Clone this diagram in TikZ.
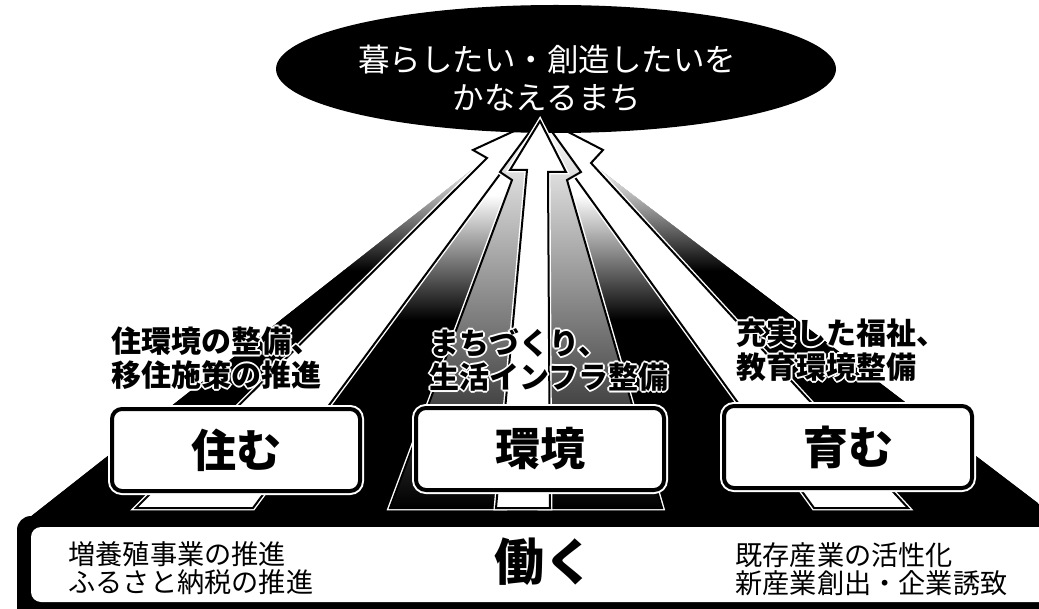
\documentclass[tikz,border=0pt]{standalone}
\usepackage{fontspec}
\newfontfamily\jpfont{Noto Sans CJK JP}

% label text with a thin white rim, so it stays readable on the dark rays
\newcommand\halolabel[4]{%
  \foreach \hx/\hy [count=\hi] in {1/0,-1/0,0/1,0/-1,.7/.7,-.7/.7,.7/-.7,-.7/-.7}
    \node[lbl,text=white,xshift={\hx*0.9pt},yshift={\hy*0.9pt}] (#1-h\hi) at (#2,#3) {#4};
  \node[lbl] (#1) at (#2,#3) {#4};}

\begin{document}
\begin{tikzpicture}[x=0.5pt,y=-0.5pt,
    ray/.style={fill=white,draw=black,line width=1pt,preaction={draw=white,line width=2.4pt}},
    rayshade/.style={top color=white,bottom color=black,draw=black,line width=1pt,preaction={draw=white,line width=2.4pt}},
    areabox/.style={draw=black,fill=white,line width=2pt,rounded corners=5pt,
      minimum width=124pt,minimum height=41pt,inner sep=0pt,
      preaction={draw=white,line width=4pt},
      font=\jpfont\bfseries\fontsize{22.5pt}{22.5pt}\selectfont},
    lbl/.style={anchor=west,align=left,inner sep=0pt,
      font=\jpfont\bfseries\fontsize{15pt}{17pt}\selectfont},
    worktext/.style={anchor=west,align=left,inner sep=0pt,
      font=\jpfont\fontsize{13.6pt}{14pt}\selectfont}]
  \useasboundingbox (0,0) rectangle (1039,609);
  \clip (0,0) rectangle (1039,609);

  % dark fan behind the rays
  \begin{scope}
    \clip (20,525) -- (487,158) -- (540,135) -- (591,163) -- (1060,520) -- cycle;
    \fill[black] (0,130) rectangle (1080,530);
    \fill[white] (0,130) rectangle (1080,196);
    \shade[top color=white,bottom color=black] (0,195) rectangle (1080,320);
  \end{scope}
  % side faces
  \begin{scope}
    \clip (20,525) -- (487,158) -- (136,508) -- cycle;
    \fill[black] (0,270) rectangle (600,530);
    \shade[top color=white,bottom color=black] (0,160) rectangle (600,271);
  \end{scope}
  \begin{scope}
    \clip (1060,520) -- (591,163) -- (908,508) -- cycle;
    \fill[black] (500,270) rectangle (1080,530);
    \shade[top color=white,bottom color=black] (500,165) rectangle (1080,271);
  \end{scope}

  % rays
  \draw[ray] (136,508) -- (487,158) -- (473,150) -- (538,120) -- (515,178) -- (503,170) -- (253,508) -- cycle;
  \draw[ray] (814,508) -- (574,176) -- (561,184) -- (547,121) -- (603,150) -- (591,163) -- (908,508) -- cycle;
  \draw[rayshade] (390,508) -- (512,180) -- (500,172) -- (537,122) -- (545,160) -- (505,508) -- cycle;
  \draw[rayshade] (540,508) -- (542,160) -- (545,122) -- (581,172) -- (567,180) -- (662,508) -- cycle;

  % goal
  \fill[black] (556,69) ellipse [x radius=280,y radius=64];
  \node[text=white,align=center,inner sep=0pt,font=\jpfont\fontsize{15.75pt}{19pt}\selectfont] (goal) at (547,78) {暮らしたい・創造したいを\\かなえるまち};
  \draw[ray] (496,508) -- (527,170) -- (510,170) -- (540,121) -- (566,172) -- (548,172) -- (550,508) -- cycle;

  % three areas
  \node[areabox] (sumu) at (236,450) {住む};
  \node[areabox] (kankyo) at (540,449) {環境};
  \node[areabox] (hagukumu) at (848,447) {育む};

  \halolabel{sumulbl}{111}{358}{住環境の整備、\\移住施策の推進}
  \halolabel{kankyolbl}{429}{360}{まちづくり、\\生活インフラ整備}
  \halolabel{hagukumulbl}{736}{350}{充実した福祉、\\教育環境整備}

  % base
  \fill[black,rounded corners=7pt] (17,516) rectangle (1100,640);
  \fill[white,rounded corners=5pt] (31,527) rectangle (1090,602);
  \node[worktext] (yoshoku) at (68,568) {増養殖事業の推進\\ふるさと納税の推進};
  \node[inner sep=0pt,font=\jpfont\bfseries\fontsize{25pt}{25pt}\selectfont] (hataraku) at (544,562) {働く};
  \node[worktext] (kizon) at (735,569) {既存産業の活性化\\新産業創出・企業誘致};
\end{tikzpicture}
\end{document}
